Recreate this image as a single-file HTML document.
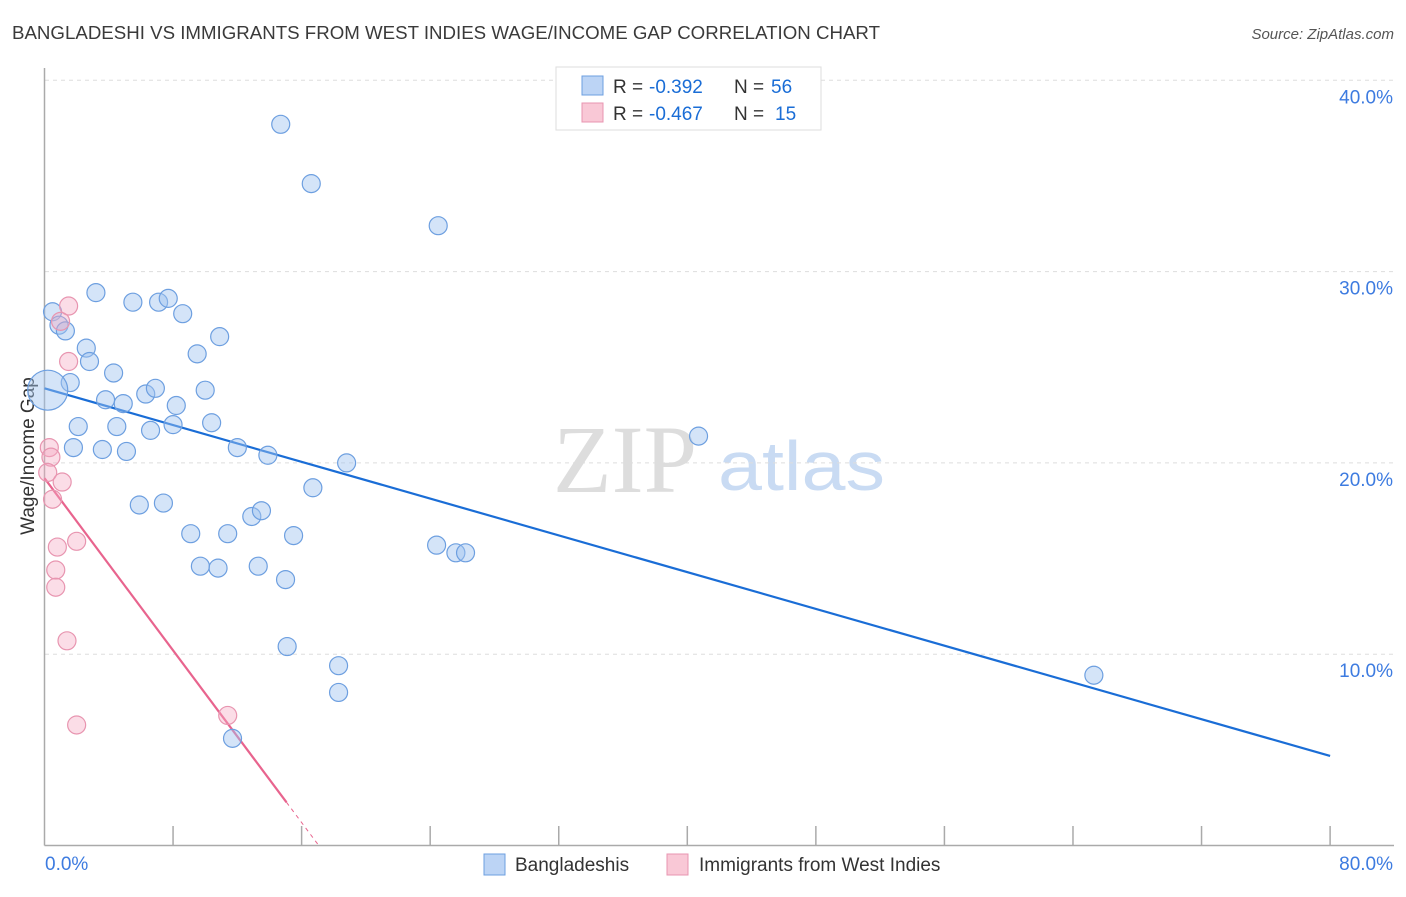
<!DOCTYPE html>
<html><head><meta charset="utf-8"><style>
body{margin:0;background:#fff;font-family:"Liberation Sans",sans-serif;}
</style></head><body>
<svg id="chart" width="1406" height="892" xmlns="http://www.w3.org/2000/svg" font-family="Liberation Sans, sans-serif">
<text x="12" y="39" font-size="18" fill="#3a3a3a" textLength="868" lengthAdjust="spacingAndGlyphs">BANGLADESHI VS IMMIGRANTS FROM WEST INDIES WAGE/INCOME GAP CORRELATION CHART</text>
<text x="1394" y="39" font-size="15" fill="#555" font-style="italic" text-anchor="end">Source: ZipAtlas.com</text>
<g>
<text x="553" y="492" font-size="96" font-family="Liberation Serif, serif" fill="#ddd">ZIP</text>
<text x="718" y="490" font-size="70" fill="#c9dbf3" textLength="167" lengthAdjust="spacingAndGlyphs">atlas</text>
</g>
<g id="grid"></g>
<g id="axes"></g>
<text transform="translate(34,456) rotate(-90)" font-size="19" fill="#333" text-anchor="middle">Wage/Income Gap</text>
<g id="lines"></g>
<g id="points"></g>
<g>
<rect x="556" y="67" width="265" height="63" fill="#fff" stroke="#ddd"/>
<rect x="582" y="76" width="21" height="19" fill="#bcd4f5" stroke="#6d9fe0"/>
<rect x="582" y="103" width="21" height="19" fill="#f9c8d6" stroke="#e895b0"/>
<text x="613" y="93" font-size="19" fill="#333">R =</text>
<text x="649" y="93" font-size="19" fill="#1a6dd6">-0.392</text>
<text x="734" y="93" font-size="19" fill="#333">N =</text>
<text x="771" y="93" font-size="19" fill="#1a6dd6">56</text>
<text x="613" y="120" font-size="19" fill="#333">R =</text>
<text x="649" y="120" font-size="19" fill="#1a6dd6">-0.467</text>
<text x="734" y="120" font-size="19" fill="#333">N =</text>
<text x="775" y="120" font-size="19" fill="#1a6dd6">15</text>
</g>
<g>
<rect x="484" y="854" width="21" height="21" fill="#bcd4f5" stroke="#6d9fe0"/>
<text x="515" y="871" font-size="19" fill="#333">Bangladeshis</text>
<rect x="667" y="854" width="21" height="21" fill="#f9c8d6" stroke="#e895b0"/>
<text x="699" y="871" font-size="19" fill="#333">Immigrants from West Indies</text>
</g>
</svg>
<script>
const yTicks=[10,20,30,40];
const yTickLabels=["10.0%","20.0%","30.0%","40.0%"];
const xTickLabels=["0.0%","80.0%"];
const blueX=[14.7,16.6,24.5,3.2,0.5,0.9,1.3,5.5,7.1,7.7,8.6,2.6,2.8,10.9,9.5,1.6,4.3,6.3,6.9,10.0,3.8,4.9,8.2,2.1,4.5,6.6,8.0,10.4,1.8,3.6,5.1,12.0,13.9,18.8,40.7,16.7,5.9,7.4,9.1,11.4,12.9,13.5,15.5,9.7,10.8,13.3,15.0,24.4,25.6,26.2,15.1,18.3,18.3,11.7,65.3,0.2];
const blueY=[37.7,34.6,32.4,28.9,27.9,27.2,26.9,28.4,28.4,28.6,27.8,26.0,25.3,26.6,25.7,24.2,24.7,23.6,23.9,23.8,23.3,23.1,23.0,21.9,21.9,21.7,22.0,22.1,20.8,20.7,20.6,20.8,20.4,20.0,21.4,18.7,17.8,17.9,16.3,16.3,17.2,17.5,16.2,14.6,14.5,14.6,13.9,15.7,15.3,15.3,10.4,9.4,8.0,5.6,8.9,23.8];
const blueR=[9,9,9,9,9,9,9,9,9,9,9,9,9,9,9,9,9,9,9,9,9,9,9,9,9,9,9,9,9,9,9,9,9,9,9,9,9,9,9,9,9,9,9,9,9,9,9,9,9,9,9,9,9,9,9,20];
const pinkX=[1.5,1.0,1.5,0.3,0.4,0.2,1.1,0.5,2.0,0.8,0.7,0.7,1.4,2.0,11.4];
const pinkY=[28.2,27.4,25.3,20.8,20.3,19.5,19.0,18.1,15.9,15.6,14.4,13.5,10.7,6.3,6.8];
const blueTrend=[23.9,4.68];
const pinkTrend=[19.2,-1.125];
const pinkSolidEnd=15.06;
const NS="http://www.w3.org/2000/svg";
const X=v=>44.5+v*16.07, Y=v=>845.5-v*19.13;
function mk(t,a,p){const e=document.createElementNS(NS,t);for(const k in a)e.setAttribute(k,a[k]);p.appendChild(e);return e;}
const grid=document.getElementById('grid'),axes=document.getElementById('axes'),svg=document.getElementById('chart');
yTicks.forEach((t,i)=>{
 const l=mk('line',{x1:45,x2:1394,y1:Y(t),y2:Y(t),stroke:'#ddd','stroke-dasharray':'4,4'},grid);
 
 
 const tx=mk('text',{x:1393,y:Y(t)+23,'font-size':19,fill:'#3d7be0','text-anchor':'end'},svg);
 tx.textContent=yTickLabels[i];
 
 
});
mk('line',{x1:44.5,x2:44.5,y1:68,y2:845.5,stroke:'#aaa','stroke-width':1.5},axes);
mk('line',{x1:44.5,x2:1394,y1:845.5,y2:845.5,stroke:'#aaa','stroke-width':1.5},axes);
for(let i=1;i<=10;i++){mk('line',{x1:X(i*8),x2:X(i*8),y1:826,y2:845,stroke:'#aaa','stroke-width':1.5},axes);}
const xl0=mk('text',{x:45,y:870,'font-size':19,fill:'#3d7be0'},svg);xl0.textContent=xTickLabels[0];


const xl1=mk('text',{x:1393,y:870,'font-size':19,fill:'#3d7be0','text-anchor':'end'},svg);xl1.textContent=xTickLabels[1];


const pts=document.getElementById('points');
blueX.forEach((x,i)=>{const c=mk('circle',{cx:X(x),cy:Y(blueY[i]),r:blueR[i],fill:'rgba(160,195,240,0.45)',stroke:'#6d9fe0','stroke-width':1.2},pts);
 
 });
pinkX.forEach((x,i)=>{const c=mk('circle',{cx:X(x),cy:Y(pinkY[i]),r:9,fill:'rgba(245,170,195,0.4)',stroke:'#e895b0','stroke-width':1.2},pts);
 
 });
const ln=document.getElementById('lines');
const bt=mk('line',{x1:X(0),y1:Y(blueTrend[0]),x2:X(80),y2:Y(blueTrend[1]),stroke:'#1a6dd6','stroke-width':2.2},ln);


const pe=pinkTrend[0]+pinkTrend[1]*pinkSolidEnd, pz=-pinkTrend[0]/pinkTrend[1];
const pt=mk('line',{x1:X(0),y1:Y(pinkTrend[0]),x2:X(pinkSolidEnd),y2:Y(pe),stroke:'#e8648e','stroke-width':2.2},ln);


const pd=mk('line',{x1:X(pinkSolidEnd),y1:Y(pe),x2:X(pz),y2:Y(0),stroke:'#e8648e','stroke-width':1,'stroke-dasharray':'4,4'},ln);


</script>
</body></html>
